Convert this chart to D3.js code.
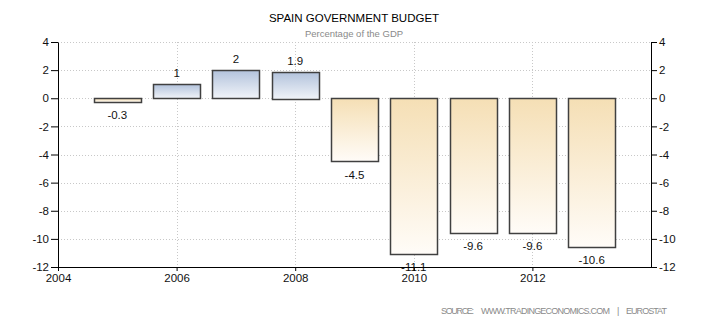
<!DOCTYPE html>
<html>
<head>
<meta charset="utf-8">
<script src="https://cdn.jsdelivr.net/npm/d3@7"></script>
<style>
  body { margin: 0; background: #fff; }
  text { font-family: "Liberation Sans", Arial, sans-serif; }
</style>
</head>
<body>
<div id="chart"></div>
<script>
// data
var years = [2005, 2006, 2007, 2008, 2009, 2010, 2011, 2012, 2013];
var budget = [-0.3, 1, 2, 1.9, -4.5, -11.1, -9.6, -9.6, -10.6];
var yTicks = [4, 2, 0, -2, -4, -6, -8, -10, -12];
var xTicks = [2004, 2006, 2008, 2010, 2012];

var width = 710, height = 325;
var margin = { top: 42, right: 59, bottom: 58, left: 58 };

var svg = d3.select("#chart")
            .append("svg")
            .attr("width", width)
            .attr("height", height);

var x = d3.scaleLinear()
          .domain([2004, 2014])
          .range([margin.left, width - margin.right]);

var y = d3.scaleLinear()
          .domain([-12, 4])
          .range([height - margin.bottom, margin.top]);

// gradients
var defs = svg.append("defs");
var pos = defs.append("linearGradient").attr("id", "gPos")
              .attr("x1", 0).attr("y1", 0).attr("x2", 0).attr("y2", 1);
pos.append("stop").attr("offset", "0%").attr("stop-color", "#b3c3dc");
pos.append("stop").attr("offset", "100%").attr("stop-color", "#f1f4f9");
var neg = defs.append("linearGradient").attr("id", "gNeg")
              .attr("x1", 0).attr("y1", 0).attr("x2", 0).attr("y2", 1);
neg.append("stop").attr("offset", "0%").attr("stop-color", "#f5dfb5");
neg.append("stop").attr("offset", "100%").attr("stop-color", "#fffcf8");

// grid
svg.append("g")
   .selectAll("line")
   .data(yTicks.filter(function(d) { return d > -12; }))
   .enter().append("line")
   .attr("x1", x(2004)).attr("x2", x(2014))
   .attr("y1", function(d) { return Math.round(y(d)) + 0.5; })
   .attr("y2", function(d) { return Math.round(y(d)) + 0.5; })
   .attr("stroke", "#c8c8c8")
   .attr("stroke-dasharray", "1,2");

svg.append("g")
   .selectAll("line")
   .data(xTicks.filter(function(d) { return d > 2004; }))
   .enter().append("line")
   .attr("x1", function(d) { return Math.round(x(d)) + 0.5; })
   .attr("x2", function(d) { return Math.round(x(d)) + 0.5; })
   .attr("y1", y(4)).attr("y2", y(-12))
   .attr("stroke", "#c8c8c8")
   .attr("stroke-dasharray", "1,2");

// bars
var barW = 47;
svg.append("g")
   .selectAll("rect")
   .data(budget)
   .enter().append("rect")
   .attr("x", function(d, i) { return Math.round(x(years[i]) - barW / 2) + 0.5; })
   .attr("y", function(d) { return Math.round(y(Math.max(0, d))) + 0.5; })
   .attr("width", barW)
   .attr("height", function(d) { return Math.round(Math.abs(y(d) - y(0))); })
   .attr("fill", function(d) { return d >= 0 ? "url(#gPos)" : "url(#gNeg)"; })
   .attr("stroke", "#404040")
   .attr("stroke-width", 1.5);

// value labels
svg.append("g")
   .selectAll("text")
   .data(budget)
   .enter().append("text")
   .attr("x", function(d, i) { return x(years[i]); })
   .attr("y", function(d) { return d >= 0 ? y(d) - 7 : y(d) + 17; })
   .attr("text-anchor", "middle")
   .attr("font-size", "11.5px")
   .attr("fill", "#111")
   .text(function(d) { return String(d); });

// axes
var axisFont = function(g) {
  g.selectAll("text").attr("font-size", "11.5px").attr("fill", "#111")
   .attr("font-family", "'Liberation Sans', Arial, sans-serif");
  g.selectAll("line").attr("stroke", "#000");
  g.select(".domain").attr("stroke", "#000");
};
var plain = function(d) { return String(d); };

svg.append("g")
   .attr("transform", "translate(" + margin.left + ",0)")
   .call(d3.axisLeft(y).tickValues(yTicks).tickFormat(plain)
            .tickSize(7).tickSizeOuter(0).tickPadding(2))
   .call(axisFont);

svg.append("g")
   .attr("transform", "translate(" + (width - margin.right) + ",0)")
   .call(d3.axisRight(y).tickValues(yTicks).tickFormat(plain)
            .tickSize(6).tickSizeOuter(0).tickPadding(2))
   .call(axisFont);

svg.append("g")
   .attr("transform", "translate(0," + (height - margin.bottom) + ")")
   .call(d3.axisBottom(x).tickValues(xTicks).tickFormat(plain)
            .tickSize(4).tickSizeOuter(0).tickPadding(3))
   .call(axisFont);

// titles
svg.append("text")
   .attr("x", 354).attr("y", 22)
   .attr("text-anchor", "middle")
   .attr("font-size", "11.5px")
   .attr("fill", "#000")
   .text("SPAIN GOVERNMENT BUDGET");

svg.append("text")
   .attr("x", 354).attr("y", 37)
   .attr("text-anchor", "middle")
   .attr("font-size", "9.5px")
   .attr("fill", "#8a8a8a")
   .text("Percentage of the GDP");

// source line, pieces placed like the original
var source = svg.append("text")
   .attr("y", 314)
   .attr("font-size", "9px")
   .attr("fill", "#8a8a8a");
source.append("tspan").attr("x", 441).attr("textLength", 33).text("SOURCE:");
source.append("tspan").attr("x", 481).attr("textLength", 129).text("WWW.TRADINGECONOMICS.COM");
source.append("tspan").attr("x", 617).text("|");
source.append("tspan").attr("x", 626).attr("textLength", 41).text("EUROSTAT");
</script>
</body>
</html>
